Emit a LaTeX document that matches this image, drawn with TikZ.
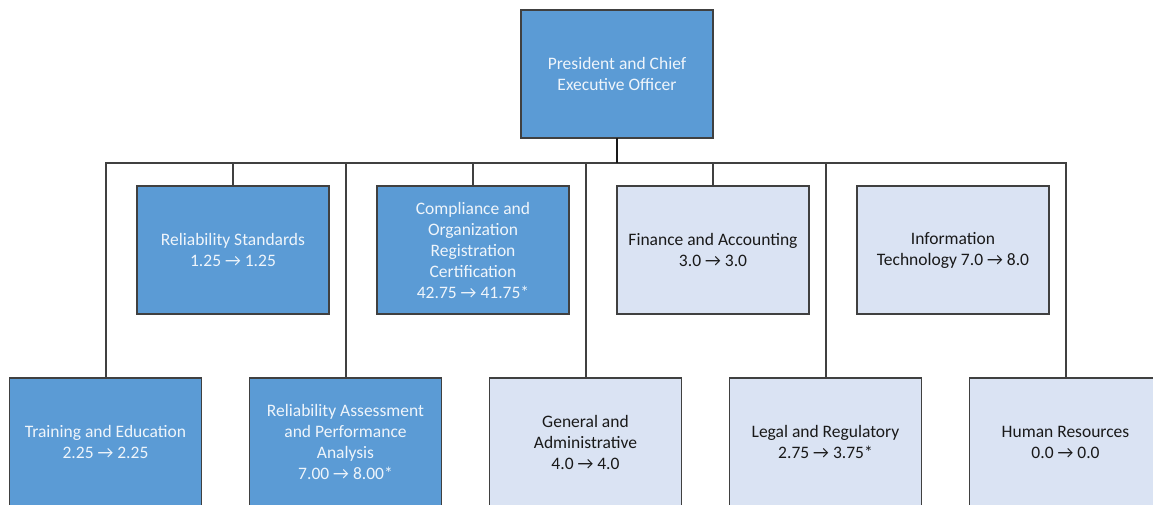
\documentclass[tikz,border=0pt]{standalone}
\usepackage{fontspec}
\setmainfont{Carlito}
\usetikzlibrary{positioning,chains}
\definecolor{unitblue}{HTML}{5B9BD5}
\definecolor{unitpale}{HTML}{DAE3F3}
\definecolor{unitline}{HTML}{404040}
\tikzset{
	unit/.style={
		rectangle,
		draw=unitline, line width=1.8pt,
		minimum width=192pt,
		minimum height=128pt,
		inner sep=0pt, outer sep=0pt,
		align=center,
		font=\fontsize{17.5}{21}\selectfont},
	bluebox/.style={unit, fill=unitblue, text=white!90!unitblue},
	palebox/.style={unit, fill=unitpale, text=black!90},
	link/.style={draw=unitline, line width=2pt},
	stem/.style={draw=black!90, line width=2.2pt},
}

\begin{document}
\begin{tikzpicture}
	[x=1pt, y=1pt, node distance=48pt]
	
	\useasboundingbox (0,0) rectangle (1153,-504);
	
	\node[bluebox] (ceo) at (617,-74) {President and Chief\\Executive Officer};
	
	% upper row
	\begin{scope}[start chain=upper going right]
	\node[bluebox, on chain=upper] (rs) at (233,-250) {Reliability Standards\\1.25 → 1.25};
	\node[bluebox, on chain=upper] (comp) {Compliance and\\Organization\\Registration\\Certification\\42.75 → 41.75*};
	\node[palebox, on chain=upper] (fin) {Finance and Accounting\\3.0 → 3.0};
	\node[palebox, on chain=upper] (it) {Information\\Technology 7.0 → 8.0};
	\end{scope}
	
	% lower row
	\begin{scope}[start chain=lower going right]
	\node[bluebox, on chain=lower] (train) at (105.5,-442) {Training and Education\\2.25 → 2.25};
	\node[bluebox, on chain=lower] (ra) {Reliability Assessment\\and Performance\\Analysis\\7.00 → 8.00*};
	\node[palebox, on chain=lower] (ga) {General and\\Administrative\\4.0 → 4.0};
	\node[palebox, on chain=lower] (legal) {Legal and Regulatory\\2.75 → 3.75*};
	\node[palebox, on chain=lower] (hr) {Human Resources\\0.0 → 0.0};
	\end{scope}
	
	\coordinate (bus) at ([yshift=-25pt]ceo.south);
	\foreach \u in {train,rs,ra,comp,ga,fin,legal,hr}
		\draw[link] (bus) -| (\u.north);
	\draw[stem] (ceo.south) -- (bus);
	
\end{tikzpicture}
\end{document}
